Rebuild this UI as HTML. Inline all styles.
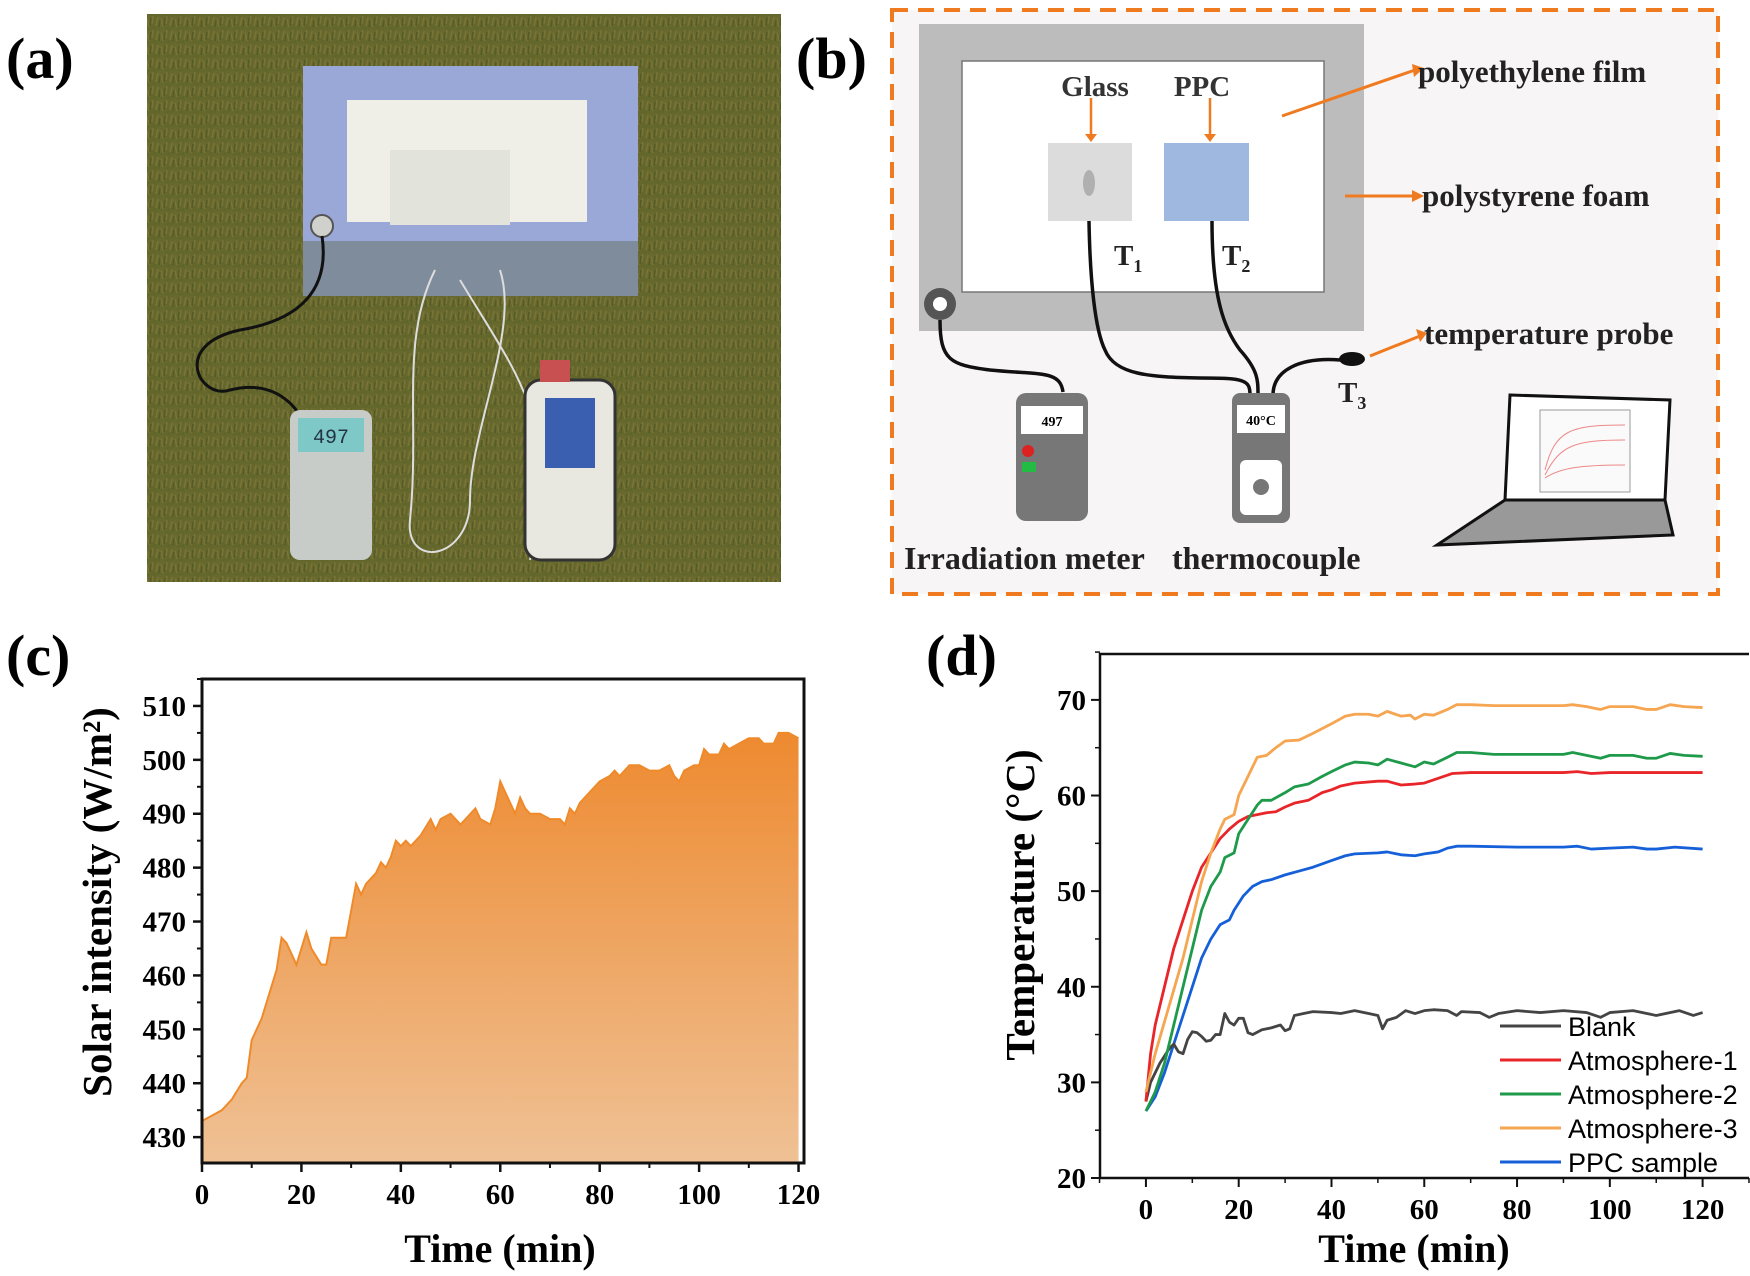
<!DOCTYPE html>
<html><head><meta charset="utf-8"><style>
html,body{margin:0;padding:0;background:#fff;}
svg{display:block;}
.lab{font-family:"Liberation Serif",serif;font-weight:bold;}
</style></head><body>
<svg id="fig" width="1750" height="1276" viewBox="0 0 1750 1276" xmlns="http://www.w3.org/2000/svg">
<defs>
<linearGradient id="cfill" x1="0" y1="0" x2="0" y2="1"><stop offset="0" stop-color="#ee8a30"/><stop offset="1" stop-color="#efc195"/></linearGradient>
<radialGradient id="grass" cx="0.5" cy="0.5" r="0.7"><stop offset="0" stop-color="#6f6e30"/><stop offset="1" stop-color="#5a6226"/></radialGradient>
<pattern id="gp" width="14" height="14" patternUnits="userSpaceOnUse"><rect width="14" height="14" fill="url(#grass)"/><path d="M2 12 L4 3 M9 13 L7 5 M12 10 L13 2" stroke="#8a7a3c" stroke-width="1.5"/><path d="M5 13 L6 6 M11 4 L10 12" stroke="#3f5020" stroke-width="1.5"/></pattern>
</defs>

<text class="lab" x="6" y="78" font-size="58">(a)</text>
<text class="lab" x="796" y="78" font-size="58">(b)</text>
<text class="lab" x="6" y="675" font-size="58">(c)</text>
<text class="lab" x="926" y="675" font-size="58">(d)</text>

<g>
<rect x="147" y="14" width="634" height="568" fill="url(#gp)"/>
<rect x="147" y="14" width="634" height="568" fill="#6a6a30" opacity="0.45"/>
<rect x="303" y="66" width="335" height="230" fill="#7f8c9c"/>
<rect x="303" y="66" width="335" height="175" fill="#9aa8d8"/>
<rect x="347" y="100" width="240" height="122" fill="#efefe8"/>
<rect x="390" y="150" width="120" height="75" fill="#e2e4dc"/>
<circle cx="322" cy="226" r="11" fill="#d0d0cc" stroke="#555" stroke-width="2"/>
<path d="M322 236 C330 290 300 320 240 330 C170 345 200 400 230 390 C270 380 300 400 310 440" stroke="#111" stroke-width="3" fill="none"/>
<path d="M435 270 C400 340 420 420 410 520 C405 570 470 560 470 500 C470 430 520 330 500 270" stroke="#ddd" stroke-width="2" fill="none"/>
<path d="M460 280 C520 380 560 420 530 560" stroke="#ddd" stroke-width="2" fill="none"/>
<rect x="290" y="410" width="82" height="150" rx="10" fill="#c8ccc8"/>
<rect x="298" y="418" width="66" height="34" fill="#7fc8c8"/>
<text x="331" y="443" font-family="Liberation Mono,monospace" font-size="20" text-anchor="middle" fill="#234">497</text>
<rect x="525" y="380" width="90" height="180" rx="16" fill="#e8e8e0" stroke="#333" stroke-width="3"/>
<rect x="545" y="398" width="50" height="70" fill="#3b5fb0"/>
<rect x="540" y="360" width="30" height="22" fill="#c85050"/>
</g>

<g>
<rect x="892" y="10" width="826" height="584" fill="#f7f5f5" stroke="#ef7a20" stroke-width="4" stroke-dasharray="16,10"/>
<rect x="919" y="24" width="445" height="307" fill="#bcbcbc"/>
<rect x="962" y="61" width="362" height="231" fill="#fff" stroke="#777" stroke-width="1.5"/>
<rect x="1048" y="143" width="84" height="78" fill="#dcdcdc"/>
<ellipse cx="1089" cy="183" rx="6" ry="13" fill="#b0b0b0"/>
<rect x="1164" y="143" width="85" height="78" fill="#9fb8e0"/>
<text class="lab" x="1095" y="96" font-size="29" text-anchor="middle" fill="#333">Glass</text>
<text class="lab" x="1202" y="96" font-size="29" text-anchor="middle" fill="#333">PPC</text>
<path d="M1091 98 V136 M1210 98 V136" stroke="#ef7a20" stroke-width="2.5"/>
<path d="M1085 134 L1091 142 L1097 134 Z M1204 134 L1210 142 L1216 134 Z" fill="#ef7a20"/>
<text class="lab" x="1114" y="265" font-size="29" fill="#222">T<tspan font-size="18" dy="7">1</tspan></text>
<text class="lab" x="1222" y="265" font-size="29" fill="#222">T<tspan font-size="18" dy="7">2</tspan></text>
<text class="lab" x="1338" y="402" font-size="29" fill="#222">T<tspan font-size="18" dy="7">3</tspan></text>
<path d="M1282 116 L1415 70 M1345 196 L1415 196 M1370 356 L1420 336" stroke="#ef7a20" stroke-width="3"/>
<path d="M1412 64 L1424 68 L1414 77 Z M1412 190 L1424 196 L1412 202 Z M1416 329 L1427 333 L1420 342 Z" fill="#ef7a20"/>
<text class="lab" x="1418" y="82" font-size="31" fill="#222">polyethylene film</text>
<text class="lab" x="1422" y="206" font-size="31" fill="#222">polystyrene foam</text>
<text class="lab" x="1424" y="344" font-size="31" fill="#222">temperature probe</text>
<circle cx="940" cy="304" r="16" fill="#555"/><circle cx="940" cy="304" r="7" fill="#fff"/>
<path d="M940 320 C940 360 950 365 990 370 C1040 375 1060 370 1063 392" stroke="#111" stroke-width="3.5" fill="none"/>
<path d="M1089 221 C1090 280 1095 330 1105 350 C1115 375 1150 377 1200 378 C1245 378 1250 380 1250 395" stroke="#111" stroke-width="3.5" fill="none"/>
<path d="M1212 221 C1212 300 1225 330 1240 350 C1258 370 1258 380 1258 395" stroke="#111" stroke-width="3.5" fill="none"/>
<path d="M1273 395 C1273 370 1300 357 1340 360" stroke="#111" stroke-width="3.5" fill="none"/>
<ellipse cx="1352" cy="359" rx="13" ry="7" fill="#111"/>
<rect x="1016" y="393" width="72" height="128" rx="10" fill="#777"/>
<rect x="1021" y="406" width="62" height="28" fill="#fff"/>
<text x="1052" y="426" font-family="Liberation Serif,serif" font-size="14" font-weight="bold" text-anchor="middle">497</text>
<circle cx="1028" cy="451" r="6" fill="#d22"/><rect x="1022" y="462" width="14" height="10" fill="#2b4"/>
<rect x="1232" y="393" width="58" height="130" rx="8" fill="#777"/>
<rect x="1237" y="405" width="48" height="28" fill="#fff"/>
<text x="1261" y="425" font-family="Liberation Serif,serif" font-size="14" font-weight="bold" text-anchor="middle">40°C</text>
<rect x="1240" y="460" width="42" height="55" rx="6" fill="#fff"/><circle cx="1261" cy="487" r="8" fill="#777"/>
<g>
<path d="M1510 395 L1670 400 L1665 500 L1505 500 Z" fill="#fff" stroke="#111" stroke-width="3"/>
<rect x="1540" y="410" width="90" height="82" fill="#fafafa" stroke="#999"/>
<path d="M1545 470 C1555 430 1570 425 1625 425 M1545 475 C1560 445 1575 440 1625 440 M1545 478 C1560 468 1580 465 1625 465" stroke="#e88" stroke-width="1" fill="none"/>
<path d="M1505 500 L1665 500 L1673 535 L1437 545 Z" fill="#999" stroke="#111" stroke-width="3"/>
</g>
<text class="lab" x="904" y="569" font-size="32" fill="#222">Irradiation meter</text>
<text class="lab" x="1172" y="569" font-size="32" fill="#222">thermocouple</text>
</g>

<g id="chartC"></g>
<g id="chartD"></g>
</svg>
<script>
const solarTime = [0,2,4,6,8,9,10,12,14,15,16,17,19,21,22,24,25,26,28,29,30,31,32,33,35,36,37,38,39,40,41,42,44,46,47,48,50,52,54,55,56,58,59,60,61,62,63,64,65,66,68,70,72,73,74,75,76,78,80,82,83,84,86,88,90,92,94,95,96,97,99,100,101,102,104,105,106,108,110,112,113,115,116,118,120];
const solarValue = [433,434,435,437,440,441,448,452,458,461,467,466,462,468,465,462,462,467,467,467,472,477,475,477,479,481,480,482,485,484,485,484,486,489,487,489,490,488,490,491,489,488,491,496,494,492,490,493,491,490,490,489,489,488,491,490,492,494,496,497,498,497,499,499,498,498,499,497,496,498,499,499,502,501,501,503,502,503,504,504,503,503,505,505,504];
const cXTicks = [0,20,40,60,80,100,120];
const cYTicks = [430,440,450,460,470,480,490,500,510];

const seriesNames = ["Blank","Atmosphere-1","Atmosphere-2","Atmosphere-3","PPC sample"];
const blankT = [0,1,3,5,6,7,8,9,10,11,12,13,14,15,16,17,18,19,20,21,22,23,25,27,29,30,31,32,34,36,40,42,45,48,50,51,52,54,56,58,60,62,65,67,68,72,74,76,80,85,90,95,98,100,105,110,115,118,120];
const blankV = [28,30,32,33.5,34,33.2,33,34.5,35.3,35.2,34.8,34.3,34.4,35,35,37.2,36.3,36,36.7,36.7,35.2,35,35.5,35.7,36,35.4,35.6,37,37.2,37.4,37.3,37.2,37.5,37.2,37,35.6,36.5,36.8,37.5,37.2,37.5,37.6,37.5,37,37.4,37.3,36.8,37.2,37.5,37.3,37.5,37.3,36.8,37.3,37.5,37,37.5,37,37.3];
const atm1T = [0,1,2,4,6,8,10,12,14,16,18,20,22,24,26,28,30,32,35,38,40,42,45,50,52,55,58,60,63,66,70,80,90,93,96,100,110,120];
const atm1V = [28,33,36,40,44,47,50,52.5,54,55.5,56.5,57.3,57.8,58,58.2,58.3,58.8,59.2,59.5,60.3,60.6,61,61.3,61.5,61.5,61.1,61.2,61.3,61.8,62.3,62.4,62.4,62.4,62.5,62.3,62.4,62.4,62.4];
const atm2T = [0,2,4,6,8,10,12,14,16,17,19,20,22,24,25,27,30,32,35,38,40,43,45,48,50,52,55,58,60,62,65,67,70,75,80,90,92,95,98,100,105,108,110,113,116,120];
const atm2V = [27,29,32,36,40,44,48,50.5,52,53.5,54,56,57.5,59,59.5,59.5,60.3,60.9,61.2,62,62.5,63.2,63.5,63.4,63.2,63.8,63.4,63,63.5,63.3,64,64.5,64.5,64.3,64.3,64.3,64.5,64.2,63.9,64.2,64.2,63.9,63.9,64.4,64.2,64.1];
const atm3T = [0,2,5,8,10,12,14,16,17,19,20,22,24,26,28,30,33,36,40,43,45,48,50,52,55,57,58,60,62,65,67,70,75,80,90,92,95,98,100,105,108,110,113,116,120];
const atm3V = [29,33,38,43,47,51,54,56.5,57.5,58,60,62,64,64.2,65,65.7,65.8,66.5,67.5,68.3,68.5,68.5,68.3,68.8,68.3,68.4,68,68.5,68.4,69,69.5,69.5,69.4,69.4,69.4,69.5,69.3,69,69.3,69.3,69,69,69.5,69.3,69.2];
const ppcT = [0,2,4,6,8,10,12,14,16,18,19,21,23,25,27,30,33,36,40,43,45,50,52,55,58,60,63,65,67,70,80,90,93,96,100,105,108,110,114,120];
const ppcV = [27,28.5,31,34,37,40,43,45,46.5,47,48,49.5,50.5,51,51.2,51.7,52.1,52.5,53.2,53.7,53.9,54,54.1,53.8,53.7,53.9,54.1,54.5,54.7,54.7,54.6,54.6,54.7,54.4,54.5,54.6,54.4,54.4,54.6,54.4];
const dXTicks = [0,20,40,60,80,100,120];
const dYTicks = [20,30,40,50,60,70];

const NS = "http://www.w3.org/2000/svg";
function mk(parent, tag, attrs){const e=document.createElementNS(NS,tag);for(const k in attrs)e.setAttribute(k,attrs[k]);parent.appendChild(e);return e;}

(function(){
  const g=document.getElementById('chartC');
  const L=202,R=804,T=679,B=1163;
  const x0=0,x1=121.1,y0=425.2,y1=515;
  const sx=v=>L+(v-x0)/(x1-x0)*(R-L);
  const sy=v=>B-(v-y0)/(y1-y0)*(B-T);
  let d='M'+sx(solarTime[0])+','+B;
  for(let i=0;i<solarTime.length;i++) d+=' L'+sx(solarTime[i])+','+sy(solarValue[i]);
  d+=' L'+sx(solarTime[solarTime.length-1])+','+B+' Z';
  const area=mk(g,'path',{d:d,fill:'url(#cfill)'});
  
  
  let ld='';
  for(let i=0;i<solarTime.length;i++) ld+=(i?' L':'M')+sx(solarTime[i])+','+sy(solarValue[i]);
  const line=mk(g,'path',{d:ld,fill:'none',stroke:'#ef8a2a','stroke-width':2});
  
  
  const frame=mk(g,'rect',{x:L,y:T,width:R-L,height:B-T,fill:'none',stroke:'#111','stroke-width':3});
  
  
  for(const t of cXTicks){
    mk(g,'line',{x1:sx(t),x2:sx(t),y1:B,y2:B+9,stroke:'#111','stroke-width':2.5});
    if(t<120) mk(g,'line',{x1:sx(t+10),x2:sx(t+10),y1:B,y2:B+5,stroke:'#111','stroke-width':2});
    const tx=mk(g,'text',{x:sx(t),y:B+41,'text-anchor':'middle','font-size':29,class:'lab'});
    tx.textContent=t;
    
    
  }
  for(const t of cYTicks){
    mk(g,'line',{x1:L,x2:L-9,y1:sy(t),y2:sy(t),stroke:'#111','stroke-width':2.5});
    mk(g,'line',{x1:L,x2:L-5,y1:sy(t+5),y2:sy(t+5),stroke:'#111','stroke-width':2});
    const ty=mk(g,'text',{x:L-16,y:sy(t)+10,'text-anchor':'end','font-size':29,class:'lab'});
    ty.textContent=t;
    
    
  }
  const xt=mk(g,'text',{x:500,y:1262,'text-anchor':'middle','font-size':40,class:'lab'});
  xt.textContent='Time (min)';
  
  
  const yt=mk(g,'text',{x:0,y:0,'text-anchor':'middle','font-size':41,class:'lab',transform:'translate(111,902) rotate(-90)'});
  yt.textContent='Solar intensity (W/m²)';
  
  
})();

(function(){
  const g=document.getElementById('chartD');
  const L=1100,R=1749,T=654,B=1178;
  const x0=-9.9,x1=130,y0=20,y1=74.8;
  const sx=v=>L+(v-x0)/(x1-x0)*(R-L);
  const sy=v=>B-(v-y0)/(y1-y0)*(B-T);
  mk(g,'path',{d:`M${L},${B} V${T} H${R}`,fill:'none',stroke:'#111','stroke-width':2.5});
  mk(g,'line',{x1:L,x2:R,y1:B,y2:B,stroke:'#111','stroke-width':2.5});
  for(const t of dXTicks){
    mk(g,'line',{x1:sx(t),x2:sx(t),y1:B,y2:B+9,stroke:'#111','stroke-width':2});
    mk(g,'line',{x1:sx(t-10),x2:sx(t-10),y1:B,y2:B+5,stroke:'#111','stroke-width':1.5});
    const tx=mk(g,'text',{x:sx(t),y:B+41,'text-anchor':'middle','font-size':29,class:'lab'});
    tx.textContent=t;
    
    
  }
  mk(g,'line',{x1:sx(130),x2:sx(130),y1:B,y2:B+5,stroke:'#111','stroke-width':1.5});
  for(const t of dYTicks){
    mk(g,'line',{x1:L,x2:L-9,y1:sy(t),y2:sy(t),stroke:'#111','stroke-width':2});
    mk(g,'line',{x1:L,x2:L-5,y1:sy(t+5),y2:sy(t+5),stroke:'#111','stroke-width':1.5});
    const ty=mk(g,'text',{x:L-14,y:sy(t)+10,'text-anchor':'end','font-size':29,class:'lab'});
    ty.textContent=t;
    
    
  }
  const series=[[blankT,blankV,'#444'],[atm1T,atm1V,'#e8262a'],[atm2T,atm2V,'#1e9a4a'],[atm3T,atm3V,'#f6a550'],[ppcT,ppcV,'#1560d8']];
  const order=[4,0,1,2,3];
  for(const si of order){
    const [xs,ys,c]=series[si];
    let d='';
    for(let i=0;i<xs.length;i++) d+=(i?' L':'M')+sx(xs[i])+','+sy(ys[i]);
    const p=mk(g,'path',{d:d,fill:'none',stroke:c,'stroke-width':2.8,'stroke-linejoin':'round'});
    
    
  }
  series.forEach((s,i)=>{
    const y=1026+i*34;
    mk(g,'line',{x1:1500,x2:1561,y1:y,y2:y,stroke:s[2],'stroke-width':3});
    const t=mk(g,'text',{x:1568,y:y+10,'font-size':27,'font-family':'Liberation Sans, sans-serif'});
    t.textContent=seriesNames[i];
    
    
  });
  const xt=mk(g,'text',{x:1414,y:1262,'text-anchor':'middle','font-size':40,class:'lab'});
  xt.textContent='Time (min)';
  
  
  const yt=mk(g,'text',{x:0,y:0,'text-anchor':'middle','font-size':41,class:'lab',transform:'translate(1034,905) rotate(-90)'});
  yt.textContent='Temperature (°C)';
  
  
})();
</script>
</body></html>
